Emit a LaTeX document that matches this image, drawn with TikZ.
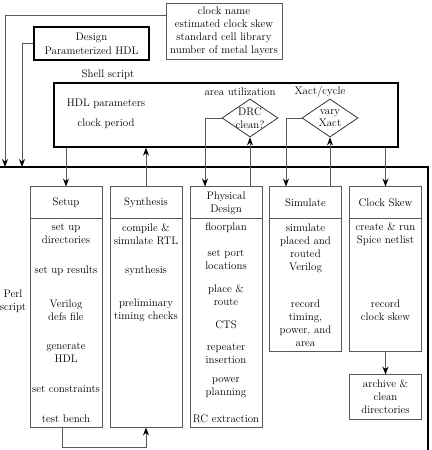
\documentclass[tikz,border=0pt]{standalone}
\usepackage{tikz}
\usetikzlibrary{arrows.meta}
\usetikzlibrary{calc}
\usetikzlibrary{shapes}
\definecolor{linegray}{gray}{0.35}

\tikzset{
  conn/.style={draw=linegray,line width=0.8pt},
  inbox/.style={draw=linegray,line width=0.8pt,align=center,inner sep=1pt},
  bigbox/.style={draw=black,line width=1.6pt,align=center},
  colhead/.style={draw=linegray,line width=1pt,minimum width=72bp,minimum height=32bp,align=center,inner sep=1pt},
  colbody/.style={draw=linegray,line width=1pt,minimum width=72bp,align=center,inner sep=1pt},
  decide/.style={diamond,draw=black!80,line width=0.8pt,minimum width=56bp,minimum height=38bp,inner sep=0pt},
  item/.style={align=center,inner sep=1pt}
}

\begin{document}
\begin{tikzpicture}[x=1bp,y=1bp,>={Stealth[black,length=8pt,width=6pt]},font=\fontsize{11}{13}\selectfont]
  \useasboundingbox (0,0) rectangle (431,450);

  % inputs
  \node [inbox,minimum width=116bp,minimum height=56bp] (params) at (224,419) {clock name\\estimated clock skew\\standard cell library\\number of metal layers};
  \node [bigbox,minimum width=115bp,minimum height=33bp,font=\fontsize{11}{14}\selectfont] (design) at (91.5,406.5) {Design\\Parameterized HDL};

  % shell script
  \node (shelllbl) at (108,375) {Shell script};
  \node [bigbox,line width=1.5pt,minimum width=344bp,minimum height=64bp] (shell) at (226,335) {};
  \node (hdlpar) at (106,346) {HDL parameters};
  \node (clkper) at (106,326) {clock period};
  \node (arealbl) at (240,358) {area utilization};
  \node (xactlbl) at (320,358) {Xact/cycle};
  \node [decide] (drc) at (250,332) {};
  \node [align=center,font=\fontsize{11}{12.5}\selectfont] (drctxt) at (drc) {DRC\\clean?};
  \node [decide] (vary) at (330,332) {};
  \node [align=center,font=\fontsize{11}{12.5}\selectfont] (varytxt) at (vary) {vary\\Xact};

  % perl script
  \draw [line width=1.8pt] (0,283) -- (428,283) -- (428,0);
  \node [align=center] (perl) at (13,148.5) {Perl\\script};
  \coordinate (pin1) at (5,283);
  \coordinate (pin2) at (22,283);

  \foreach \nm/\x/\hd in {setup/66/Setup,synth/146/Synthesis,phys/226/{Physical\\Design},sim/305.5/Simulate,skew/385.5/{Clock Skew}}
    \node [colhead] (\nm hd) at (\x,247) {\hd};
  \foreach \nm/\x in {setup/66,synth/146,phys/226}
    \node [colbody,minimum height=208bp] (\nm b) at (\x,127) {};
  \foreach \nm/\x in {sim/305.5,skew/385.5}
    \node [colbody,minimum height=132bp] (\nm b) at (\x,165) {};
  \node [colbody,minimum height=44bp] (archive) at (385.5,53) {archive \&\\clean\\directories};

  % column entries
  \foreach \txt/\y [count=\i] in {{set up\\directories}/216,{set up results}/179,{Verilog\\defs file}/139.5,{generate\\HDL}/97,{set constraints}/61,{test bench}/31}
    \node [item] (setup-\i) at (66,\y) {\txt};
  \foreach \txt/\y [count=\i] in {{compile \&\\simulate RTL}/215.5,{synthesis}/179,{preliminary\\timing checks}/139.5}
    \node [item] (synth-\i) at (146,\y) {\txt};
  \foreach \txt/\y [count=\i] in {{floorplan}/222,{set port\\locations}/190.5,{place \&\\route}/154.5,{CTS}/125,{repeater\\insertion}/96.5,{power\\planning}/62.5,{RC extraction}/31}
    \node [item] (phys-\i) at (226,\y) {\txt};
  \foreach \txt/\y [count=\i] in {{simulate\\placed and\\routed\\Verilog}/202,{record\\timing,\\power, and\\area}/126.5}
    \node [item] (sim-\i) at (305.5,\y) {\txt};
  \foreach \txt/\y [count=\i] in {{create \& run\\Spice netlist}/215.5,{record\\clock skew}/139.5}
    \node [item] (skew-\i) at (385.5,\y) {\txt};

  % connectors
  \draw [conn,->] ([yshift=16bp]params.west) -| (pin1);
  \draw [conn,->] (design.west) -| (pin2);
  \draw [conn,->] (setuphd.north |- shell.south) -- (setuphd.north);
  \draw [conn,->] (synthhd.north) -- (synthhd.north |- shell.south);
  \draw [conn,->] (drc.west) -| ([xshift=-21bp]physhd.north);
  \draw [conn,->] (drc.south |- physhd.north) -- (drc.south);
  \draw [conn,->] (vary.west) -| ([xshift=-19.5bp]simhd.north);
  \draw [conn,->] (vary.south |- simhd.north) -- (vary.south);
  \draw [conn,->] (skewhd.north |- shell.south) -- (skewhd.north);
  \draw [conn,->] (skewb.south) -- (archive.north);
  \draw [conn,->] ([xshift=-4bp]setupb.south) -- ++(0,-20) -| (synthb.south);

\end{tikzpicture}
\end{document}
